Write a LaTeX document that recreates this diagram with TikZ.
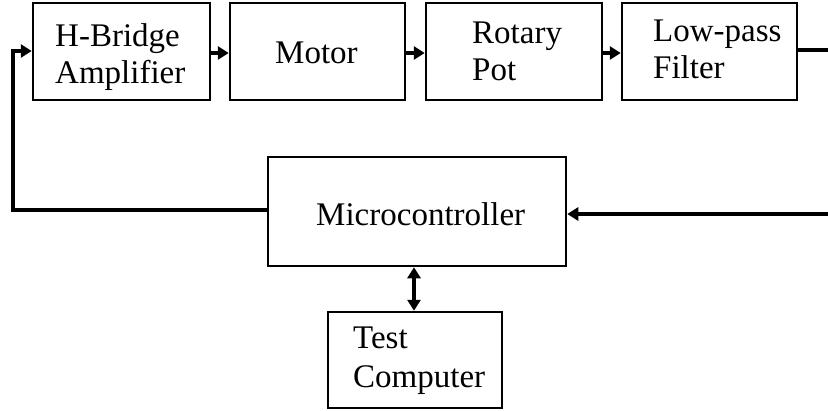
\documentclass[tikz,border=0pt]{standalone}
\usepackage{fontspec}
\setmainfont{Liberation Serif}
\usetikzlibrary{arrows.meta}
\begin{document}
\begin{tikzpicture}[x=1pt,y=-1pt,
  box/.style={draw, line width=2.5pt, inner sep=0pt},
  lbl/.style={font=\fontsize{33}{37}\selectfont, align=left, inner sep=0pt, anchor=base west},
  conn/.style={line width=3.5pt},
  tip/.style={Triangle[length=11pt,width=13pt]},
  arr/.style={conn, -{Triangle[length=11pt,width=13pt]}},
  darr/.style={conn, {Triangle[length=11pt,width=13pt]}-{Triangle[length=11pt,width=13pt]}}
]
\useasboundingbox (0,0) rectangle (828,410);
% boxes
\node[box, minimum width=177pt, minimum height=97pt] (hb) at (121.5,51.5) {};
\node[box, minimum width=175pt, minimum height=97pt] (mot) at (317.5,51.5) {};
\node[box, minimum width=176pt, minimum height=97pt] (rot) at (514,51.5) {};
\node[box, minimum width=175pt, minimum height=97pt] (lpf) at (709.5,51.5) {};
\node[box, minimum width=298pt, minimum height=109pt] (mcu) at (417,211.5) {};
\node[box, minimum width=174pt, minimum height=96pt] (tc) at (415,360) {};
% labels (base anchor = baseline of last line)
\node[lbl] (thb) at (55,83) {H-Bridge\\Amplifier};
\node[lbl] (tmot) at (275,63) {Motor};
\node[lbl] (trot) at (472,80) {Rotary\\Pot};
\node[lbl] (tlpf) at (653,78) {Low-pass\\Filter};
\node[lbl] (tmcu) at (316,225) {Microcontroller};
\node[lbl, font=\fontsize{33}{39}\selectfont] (ttc) at (353,387) {Test\\Computer};
% connectors
\coordinate (lc) at (13,210);
\coordinate (lt) at (13,51);
\coordinate (ro) at (828,50);
\coordinate (ri) at (828,214);
\draw[arr] (hb.east |- 0,53) -- (mot.west |- 0,53);
\draw[arr] (mot.east |- 0,53) -- (rot.west |- 0,53);
\draw[arr] (rot.east |- 0,53) -- (lpf.west |- 0,53);
\draw[conn] (lpf.east |- ro) -- (ro);
\draw[arr] (ri) -- (mcu.east |- ri);
\draw[arr] (mcu.west |- lc) -- (lc) -- (lt) -- (hb.west |- lt);
\draw[darr] (mcu.south -| 414,0) -- (tc.north -| 414,0);
\end{tikzpicture}
\end{document}
